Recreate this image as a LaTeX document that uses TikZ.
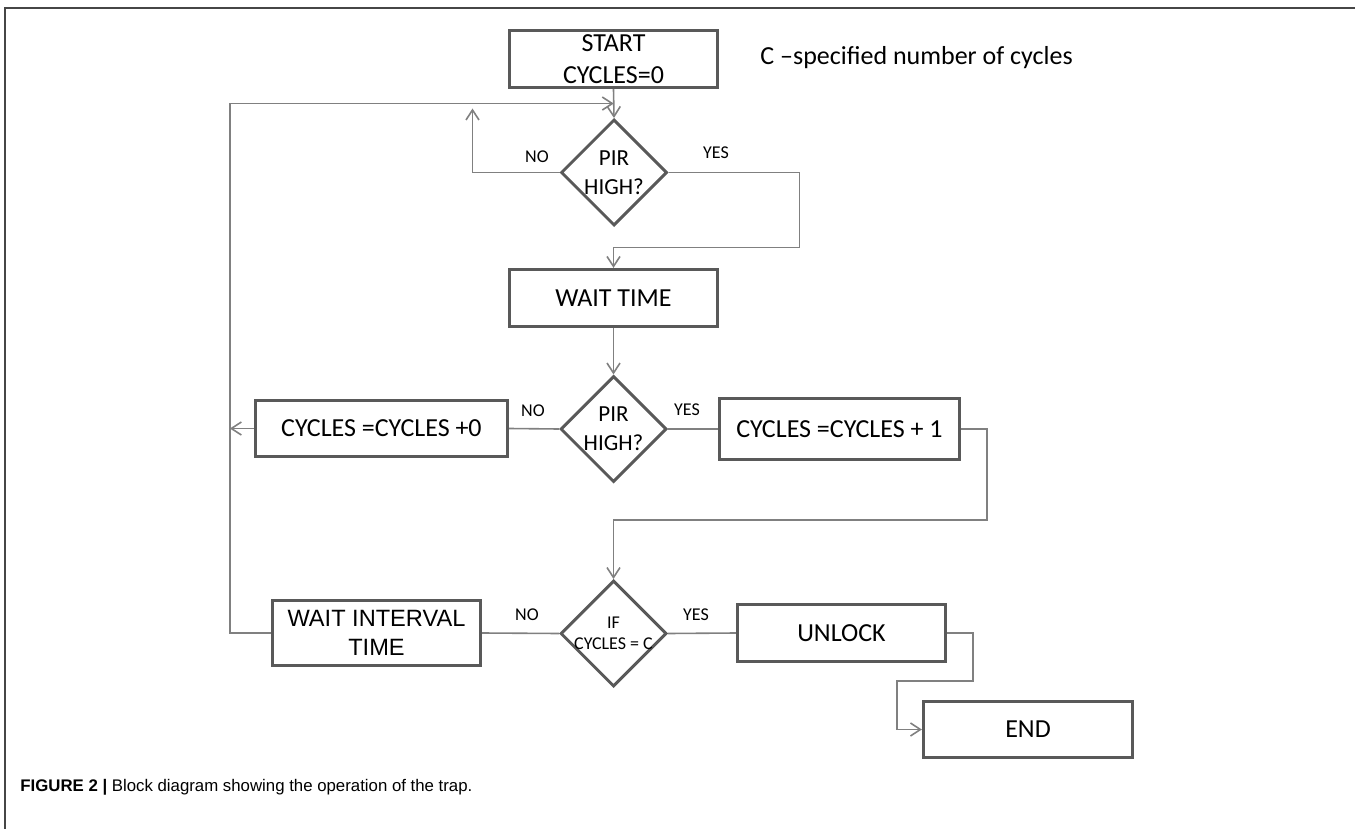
\documentclass[tikz,border=0pt]{standalone}
\usepackage{fontspec}
\setmainfont{Carlito}
\newfontfamily\arialfont{Liberation Sans}
\usetikzlibrary{shapes.geometric,arrows.meta,calc}
\definecolor{boxgray}{RGB}{89,89,89}
\definecolor{linkgray}{RGB}{128,128,128}
\definecolor{framegray}{RGB}{70,70,70}

\begin{document}
\begin{tikzpicture}[x=0.5pt, y=-0.5pt,
  blk/.style={draw=boxgray, line width=1.6pt, align=center, inner sep=0pt,
    font=\fontsize{13}{16}\selectfont},
  dec/.style={draw=boxgray, diamond, aspect=1, line width=1.5pt, inner sep=0pt,
    align=center, minimum width=53pt, minimum height=53pt,
    font=\fontsize{11.5}{14.5}\selectfont},
  ans/.style={inner sep=0pt, font=\fontsize{9}{10}\selectfont},
  link/.style={draw=linkgray, line width=0.8pt},
  arr/.style={link, -{Straight Barb[length=5pt,width=6.5pt]}},
]
  \useasboundingbox (0,0) rectangle (1355,829);

  % frame
  \draw[framegray, line width=0.75pt] (5,829) -- (5,8) -- (1355,8);

  % top part
  \node[blk, minimum width=104pt, minimum height=28.5pt] (start) at (613.5,59)
    {START\\CYCLES=0};
  \node[anchor=base west, inner sep=0pt, font=\fontsize{13}{16}\selectfont]
    (note) at (760,65) {C –specified number of cycles};
  \node[dec] (pir1) at (614,172.5) {PIR\\HIGH?};
  \node[blk, minimum width=104pt, minimum height=28.5pt] (wait) at (613.5,298)
    {WAIT TIME};

  % middle row
  \node[dec] (pir2) at (613.5,429) {PIR\\HIGH?};
  \node[blk, minimum width=126pt, minimum height=28pt] (cyc0) at (381.5,428.5)
    {CYCLES =CYCLES +0};
  \node[blk, minimum width=120pt, minimum height=30.4pt] (cyc1) at (839.5,429)
    {CYCLES =CYCLES + 1};

  % bottom row
  \node[dec, inner xsep=-6pt, font=\fontsize{9}{10.5}\selectfont] (chk)
    at (613.5,633.5) {IF\\CYCLES = C};
  \node[blk, minimum width=104pt, minimum height=32.4pt,
    font=\arialfont\fontsize{11.8}{14.5}\selectfont] (interval) at (376.5,633)
    {WAIT INTERVAL\\TIME};
  \node[blk, minimum width=104pt, minimum height=28.4pt] (unlock) at (841.5,633)
    {UNLOCK};
  \node[blk, minimum width=104.5pt, minimum height=28pt] (end) at (1028,729.5)
    {END};

  % yes / no labels
  \node[ans] (no1) at (537,157) {NO};
  \node[ans] (yes1) at (716,153) {YES};
  \node[ans] (no2) at (533,411) {NO};
  \node[ans] (yes2) at (687,410) {YES};
  \node[ans] (no3) at (527,615) {NO};
  \node[ans] (yes3) at (696,615) {YES};

  % connectors
  \coordinate (merge) at ($(start.south)!0.5!(pir1.north)$);
  \draw[arr] (start.south) -- (pir1.north);
  \draw[arr] (pir1.west) -- ++(-87,0) -- ++(0,-64);
  \draw[arr] (pir1.east) -- ++(131,0) -- ++(0,75) -| (wait.north);
  \draw[arr] (wait.south) -- (pir2.north);
  \draw[link] (pir2.west) -- (cyc0.east);
  \draw[arr] (cyc0.west) -- ++(-24,0);
  \draw[link] (pir2.east) -- (cyc1.west);
  \draw[arr] (cyc1.east) -- ++(26,0) -- ++(0,91) -| (chk.north);
  \draw[link] (chk.west) -- (interval.east);
  \draw[link] (chk.east) -- (unlock.west);
  \draw[arr] (interval.west) -- ++(-41,0) |- (merge);
  \draw[arr] (unlock.east) -- ++(26,0) -- ++(0,48) -- ++(-76,0) |- (end.west);

  % caption
  \node[anchor=base west, inner sep=0pt, font=\arialfont\fontsize{8.4}{10}\selectfont]
    (caption) at (20,791)
    {\textbf{FIGURE 2 |} Block diagram showing the operation of the trap.};
\end{tikzpicture}
\end{document}
